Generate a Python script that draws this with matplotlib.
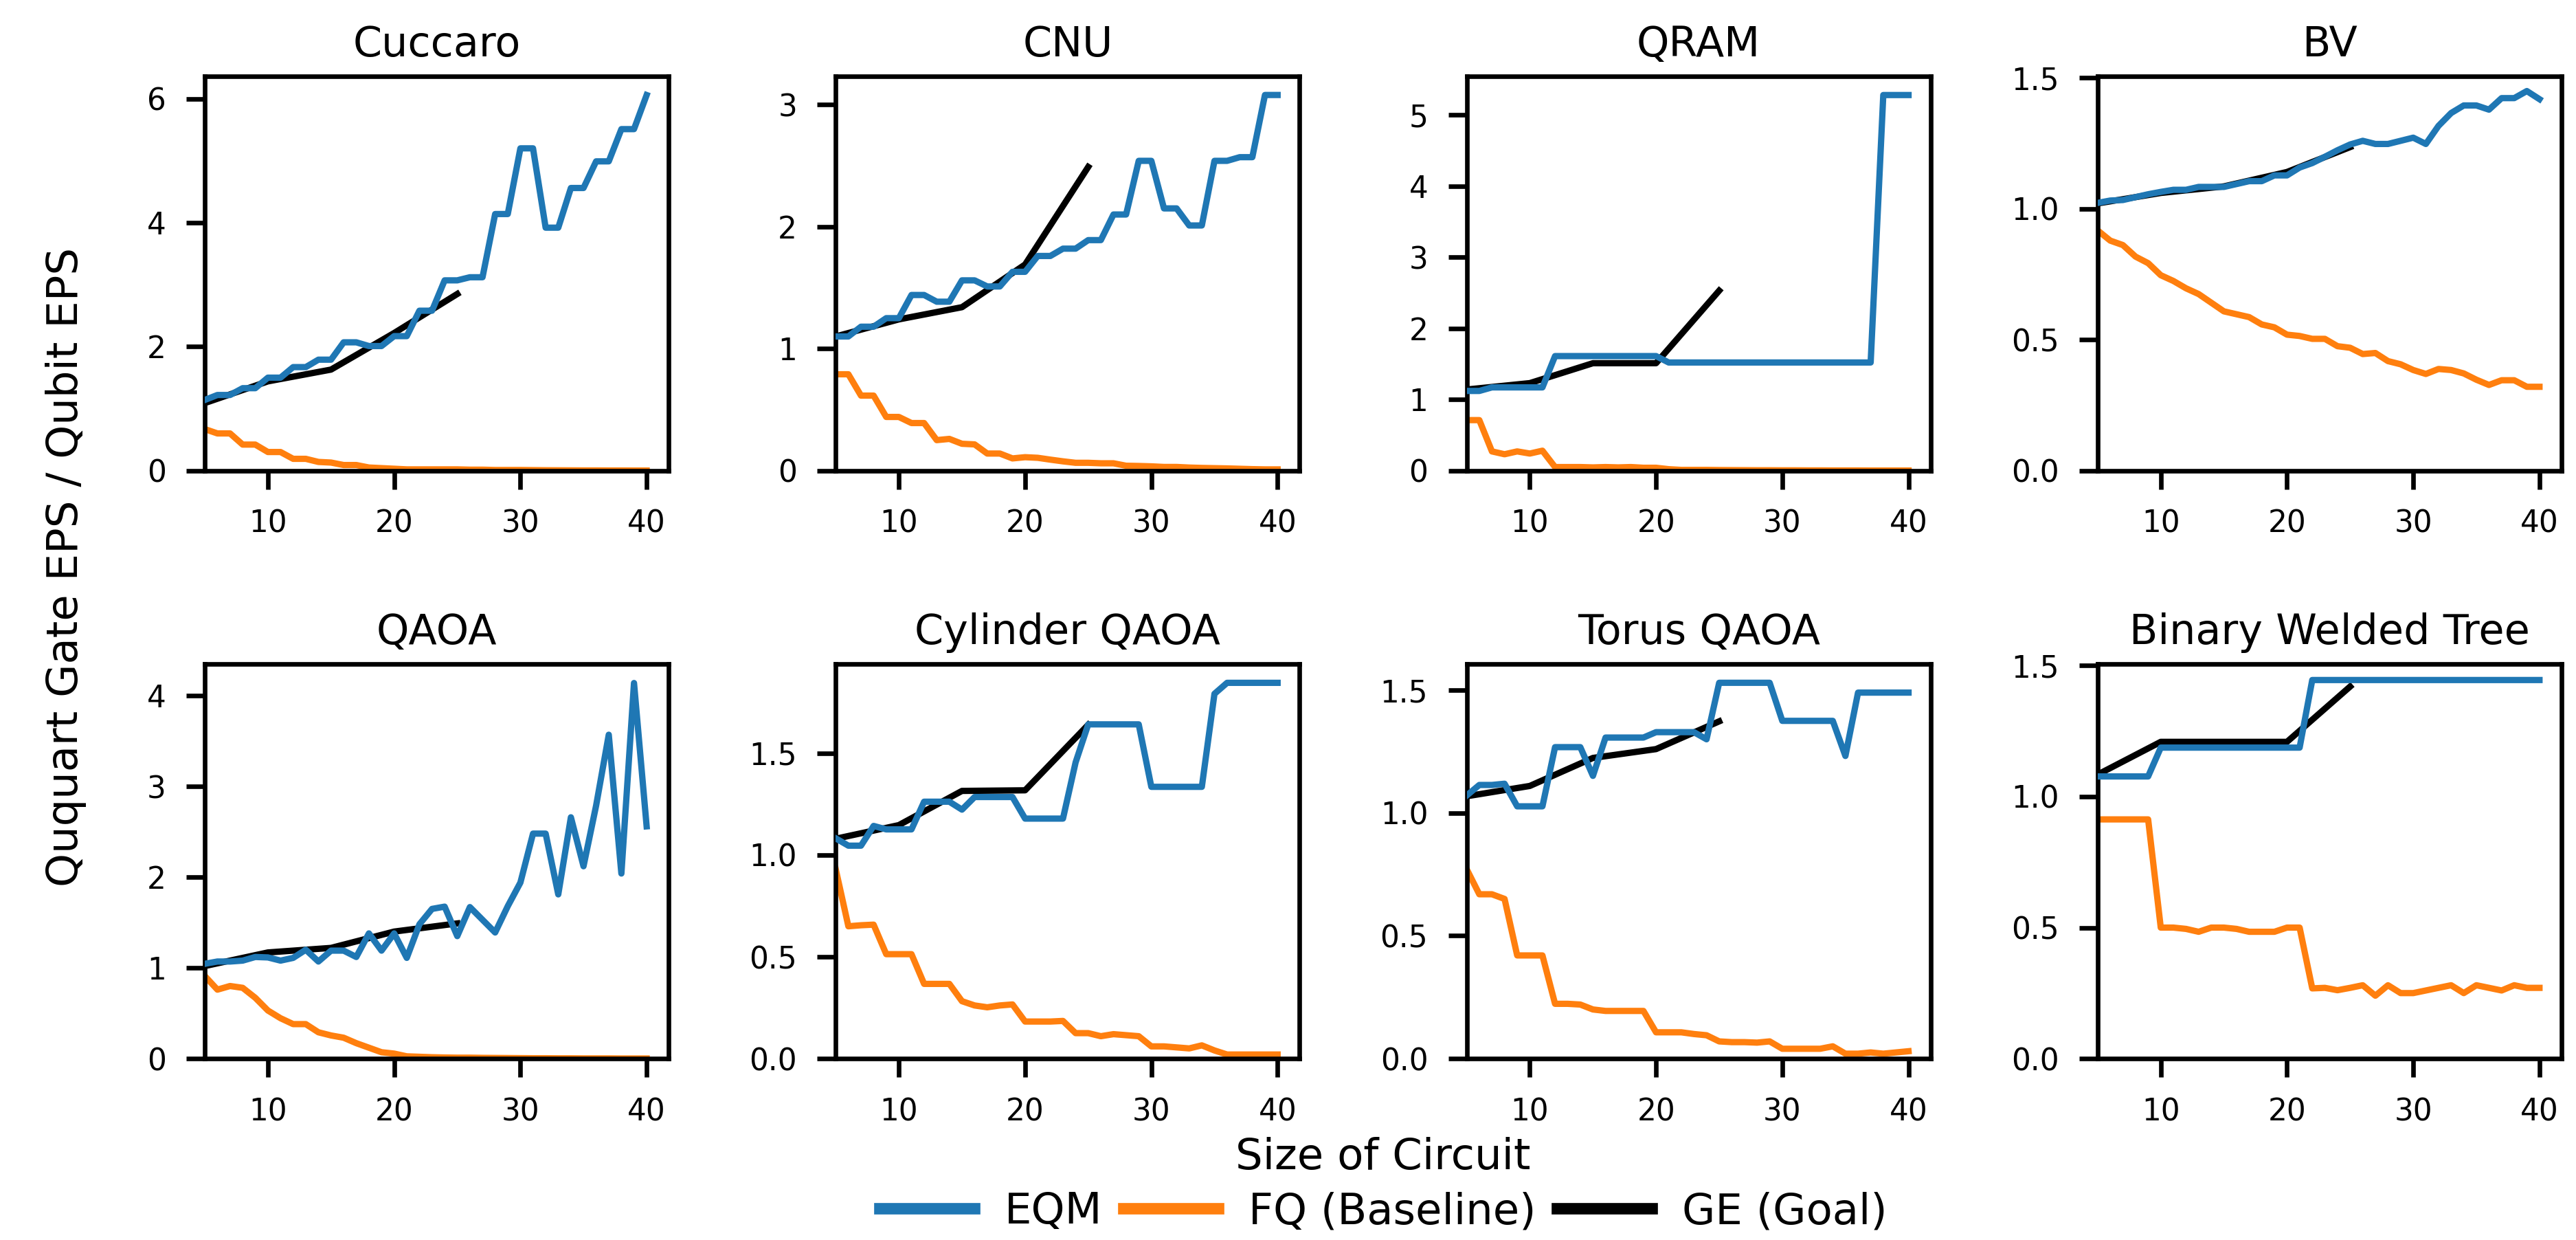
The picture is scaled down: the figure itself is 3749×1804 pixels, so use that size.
import matplotlib
matplotlib.use("Agg")
import matplotlib.pyplot as plt

# circuit sizes on the x axis
sizes = list(range(5, 41))
goal_sizes = [5, 10, 15, 20, 25]

titles = ["Cuccaro", "CNU", "QRAM", "BV",
          "QAOA", "Cylinder QAOA", "Torus QAOA", "Binary Welded Tree"]

# ratio of ququart gate EPS to qubit EPS, one list per benchmark
cuccaro_eqm = [1.14, 1.22, 1.22, 1.33, 1.33, 1.50, 1.50, 1.67, 1.67, 1.79, 1.79, 2.07,
               2.07, 2.01, 2.01, 2.17, 2.17, 2.58, 2.58, 3.07, 3.07, 3.12, 3.12, 4.14,
               4.14, 5.20, 5.20, 3.92, 3.92, 4.56, 4.56, 4.99, 4.99, 5.51, 5.51, 6.06]
cuccaro_fq = [0.67, 0.60, 0.60, 0.42, 0.42, 0.30, 0.30, 0.19, 0.19, 0.14, 0.13, 0.09,
              0.09, 0.05, 0.04, 0.03, 0.02, 0.02, 0.02, 0.02, 0.02, 0.015, 0.015, 0.01,
              0.01, 0.01, 0.008, 0.006, 0.005, 0.004, 0.003, 0.003, 0.002, 0.002, 0.001, 0.001]
cuccaro_ge = [1.09, 1.44, 1.63, 2.22, 2.85]

cnu_eqm = [1.10, 1.10, 1.18, 1.18, 1.25, 1.25, 1.44, 1.44, 1.385, 1.385, 1.56, 1.56,
           1.51, 1.51, 1.63, 1.63, 1.76, 1.76, 1.82, 1.82, 1.89, 1.89, 2.10, 2.10,
           2.54, 2.54, 2.15, 2.15, 2.01, 2.01, 2.54, 2.54, 2.57, 2.57, 3.08, 3.08]
cnu_fq = [0.79, 0.79, 0.615, 0.615, 0.44, 0.44, 0.39, 0.39, 0.25, 0.26, 0.22, 0.215,
          0.14, 0.14, 0.10, 0.11, 0.105, 0.09, 0.076, 0.064, 0.064, 0.06, 0.06, 0.04,
          0.038, 0.035, 0.03, 0.03, 0.025, 0.022, 0.02, 0.018, 0.015, 0.012, 0.01, 0.01]
cnu_ge = [1.10, 1.24, 1.34, 1.69, 2.49]

qram_eqm = [1.12, 1.12, 1.17, 1.17, 1.17, 1.17, 1.17, 1.61, 1.61, 1.61, 1.61, 1.61,
            1.61, 1.61, 1.61, 1.61, 1.52, 1.52, 1.52, 1.52, 1.52, 1.52, 1.52, 1.52,
            1.52, 1.52, 1.52, 1.52, 1.52, 1.52, 1.52, 1.52, 1.52, 5.28, 5.28, 5.28]
qram_fq = [0.71, 0.71, 0.27, 0.23, 0.27, 0.24, 0.28, 0.05, 0.05, 0.05, 0.045, 0.05,
           0.045, 0.05, 0.04, 0.04, 0.02, 0.01, 0.01, 0.01, 0.008, 0.007, 0.006, 0.005,
           0.005, 0.004, 0.004, 0.003, 0.003, 0.002, 0.002, 0.002, 0.001, 0.001, 0.001, 0.001]
qram_ge = [1.14, 1.23, 1.51, 1.51, 2.53]

bv_eqm = [1.022, 1.031, 1.033, 1.044, 1.055, 1.064, 1.072, 1.072, 1.083, 1.083, 1.083, 1.094,
          1.105, 1.105, 1.127, 1.127, 1.157, 1.174, 1.198, 1.223, 1.245, 1.259, 1.247, 1.247,
          1.259, 1.271, 1.247, 1.316, 1.365, 1.394, 1.394, 1.378, 1.422, 1.422, 1.449, 1.418]
bv_fq = [0.917, 0.878, 0.861, 0.817, 0.792, 0.746, 0.724, 0.696, 0.674, 0.641, 0.608, 0.597,
         0.586, 0.558, 0.547, 0.519, 0.514, 0.503, 0.503, 0.475, 0.469, 0.445, 0.449, 0.418,
         0.406, 0.384, 0.369, 0.388, 0.384, 0.371, 0.347, 0.327, 0.345, 0.345, 0.320, 0.320]
bv_ge = [1.02, 1.06, 1.085, 1.14, 1.235]

qaoa_eqm = [1.045, 1.07, 1.07, 1.08, 1.12, 1.115, 1.08, 1.11, 1.20, 1.07, 1.19, 1.19,
            1.12, 1.38, 1.19, 1.38, 1.11, 1.48, 1.65, 1.675, 1.35, 1.67, 1.53, 1.39,
            1.68, 1.94, 2.48, 2.48, 1.81, 2.66, 2.12, 2.79, 3.57, 2.04, 4.14, 2.56]
qaoa_fq = [0.91, 0.76, 0.80, 0.78, 0.67, 0.53, 0.445, 0.38, 0.38, 0.29, 0.255, 0.23,
           0.17, 0.12, 0.07, 0.055, 0.025, 0.02, 0.015, 0.012, 0.01, 0.01, 0.008, 0.007,
           0.006, 0.005, 0.004, 0.004, 0.003, 0.003, 0.002, 0.002, 0.002, 0.001, 0.001, 0.001]
qaoa_ge = [1.02, 1.17, 1.22, 1.40, 1.49]

cyl_eqm = [1.082, 1.046, 1.046, 1.143, 1.126, 1.126, 1.126, 1.262, 1.262, 1.262, 1.223, 1.285,
           1.285, 1.285, 1.285, 1.179, 1.179, 1.179, 1.179, 1.455, 1.642, 1.642, 1.642, 1.642,
           1.642, 1.335, 1.335, 1.335, 1.335, 1.335, 1.792, 1.846, 1.846, 1.846, 1.846, 1.846]
cyl_fq = [0.93, 0.65, 0.655, 0.658, 0.513, 0.513, 0.513, 0.367, 0.367, 0.367, 0.282, 0.261,
          0.252, 0.261, 0.266, 0.182, 0.182, 0.182, 0.185, 0.125, 0.125, 0.11, 0.12, 0.115,
          0.11, 0.06, 0.06, 0.055, 0.05, 0.065, 0.04, 0.02, 0.02, 0.02, 0.02, 0.02]
cyl_ge = [1.08, 1.147, 1.315, 1.318, 1.64]

torus_eqm = [1.071, 1.114, 1.114, 1.119, 1.027, 1.027, 1.027, 1.268, 1.268, 1.268, 1.151, 1.307,
             1.307, 1.307, 1.307, 1.329, 1.329, 1.329, 1.329, 1.30, 1.53, 1.53, 1.53, 1.53,
             1.53, 1.375, 1.375, 1.375, 1.375, 1.375, 1.232, 1.49, 1.49, 1.49, 1.49, 1.49]
torus_fq = [0.771, 0.669, 0.669, 0.65, 0.42, 0.42, 0.42, 0.223, 0.223, 0.22, 0.20, 0.194,
            0.194, 0.194, 0.194, 0.107, 0.107, 0.107, 0.10, 0.095, 0.07, 0.067, 0.067, 0.065,
            0.07, 0.04, 0.04, 0.04, 0.04, 0.05, 0.02, 0.02, 0.025, 0.02, 0.025, 0.03]
torus_ge = [1.068, 1.11, 1.224, 1.26, 1.373]

bwt_eqm = [1.077, 1.077, 1.077, 1.077, 1.077, 1.187, 1.187, 1.187, 1.187, 1.187, 1.187, 1.187,
           1.187, 1.187, 1.187, 1.187, 1.187, 1.445, 1.445, 1.445, 1.445, 1.445, 1.445, 1.445,
           1.445, 1.445, 1.445, 1.445, 1.445, 1.445, 1.445, 1.445, 1.445, 1.445, 1.445, 1.445]
bwt_fq = [0.913, 0.913, 0.913, 0.913, 0.913, 0.50, 0.50, 0.495, 0.484, 0.50, 0.50, 0.495,
          0.484, 0.484, 0.484, 0.50, 0.50, 0.268, 0.27, 0.261, 0.27, 0.28, 0.24, 0.28,
          0.25, 0.25, 0.26, 0.27, 0.28, 0.25, 0.28, 0.27, 0.26, 0.28, 0.27, 0.27]
bwt_ge = [1.084, 1.209, 1.209, 1.209, 1.42]

eqm_series = [cuccaro_eqm, cnu_eqm, qram_eqm, bv_eqm, qaoa_eqm, cyl_eqm, torus_eqm, bwt_eqm]
fq_series = [cuccaro_fq, cnu_fq, qram_fq, bv_fq, qaoa_fq, cyl_fq, torus_fq, bwt_fq]
ge_series = [cuccaro_ge, cnu_ge, qram_ge, bv_ge, qaoa_ge, cyl_ge, torus_ge, bwt_ge]

plt.rcParams.update({
    "font.family": "DejaVu Sans",
    "axes.linewidth": 1.6,
    "xtick.major.size": 6.5,
    "ytick.major.size": 6.5,
    "xtick.major.width": 1.6,
    "ytick.major.width": 1.6,
    "xtick.major.pad": 7,
    "ytick.major.pad": 7,
    "xtick.labelsize": 10.5,
    "ytick.labelsize": 10.5,
    "axes.titlesize": 14.5,
    "axes.titlepad": 7,
    "lines.linewidth": 2.2,
})

fig, axes = plt.subplots(2, 4, figsize=(3749 / 300, 1804 / 300), dpi=300)
fig.subplots_adjust(left=0.0795, right=0.9944, bottom=0.1463, top=0.9385,
                    wspace=0.36, hspace=0.491)

for ax, title, eqm, fq, ge in zip(axes.flat, titles, eqm_series, fq_series, ge_series):
    ax.plot(sizes, eqm, color="#1f77b4", label="EQM", zorder=3)
    ax.plot(sizes, fq, color="#ff7f0e", label="FQ (Baseline)", zorder=2)
    ax.plot(goal_sizes, ge, color="black", label="GE (Goal)", zorder=2)
    ax.set_title(title)
    ax.set_xlim(left=5)
    ax.set_ylim(bottom=0)
    ax.set_xticks([10, 20, 30, 40])

# shared labels and legend
fig.text(0.0256, 0.5427, "Ququart Gate EPS / Qubit EPS", rotation=90,
         ha="center", va="center", fontsize=15)
fig.text(0.537, 0.0665, "Size of Circuit", ha="center", va="center", fontsize=15)

handles, labels = axes[0, 0].get_legend_handles_labels()
leg = fig.legend(handles, labels, loc="center", bbox_to_anchor=(0.537, 0.0227),
                 ncol=3, frameon=False, fontsize=15, handlelength=2.2,
                 handletextpad=0.7, columnspacing=0.5)
for line in leg.get_lines():
    line.set_linewidth(4)

fig.savefig("out.png", dpi=300)
